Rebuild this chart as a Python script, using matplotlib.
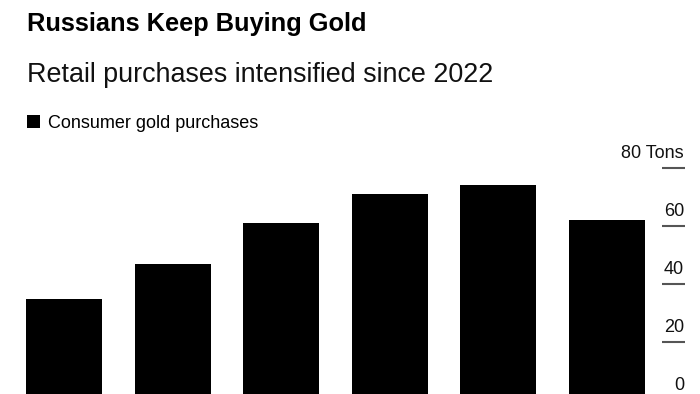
import matplotlib.pyplot as plt
from matplotlib.transforms import blended_transform_factory

plt.rcParams['font.family'] = ['Liberation Sans', 'DejaVu Sans']

years = ['2019', '2020', '2021', '2022', '2023', '2024']
tons = [35, 47, 61, 71, 74, 62]
y_ticks = [0, 20, 40, 60, 80]
y_labels = ['0', '20', '40', '60', '80 Tons']

W, H = 700, 394
fig = plt.figure(figsize=(W / 100, H / 100), dpi=100)

# axes bottom sits a bit below the canvas, like the cropped original
ax = fig.add_axes([10 / W, -6.5 / H, 652 / W, 232.8 / H])
bars = ax.bar(range(len(tons)), tons, width=0.7, color='black',
              label='Consumer gold purchases')
ax.set_xlim(-0.5, 5.51)
ax.set_ylim(0, 80)
ax.set_xticks(range(len(years)), years)
for s in ax.spines.values():
    s.set_visible(False)
ax.tick_params(axis='x', length=0, labelbottom=False)
ax.yaxis.tick_right()
ax.set_yticks(y_ticks)
ax.set_yticklabels([])
ax.tick_params(axis='y', length=16.6, width=1.5, color='#555555', direction='out')

trans = blended_transform_factory(fig.transFigure, ax.transData)
for v, lab in zip(y_ticks, y_labels):
    ax.annotate(lab, (684 / W, v), xycoords=trans, xytext=(0, 7.2),
                textcoords='offset points', ha='right', va='baseline',
                fontsize=13, color='#111111')

fig.text(27 / W, 1 - 24 / H, 'Russians Keep Buying Gold', fontsize=18.3,
         fontweight='bold', va='center')
fig.text(27 / W, 1 - 75 / H, 'Retail purchases intensified since 2022',
         fontsize=19.4, va='center', color='#111111')

fig.legend(handles=[bars], loc='center left', bbox_to_anchor=(27 / W, 1 - 123 / H),
           frameon=False, fontsize=13, handlelength=0.7, handleheight=0.7,
           handletextpad=0.45, borderpad=0, borderaxespad=0)

fig.savefig('out.png', dpi=100)
